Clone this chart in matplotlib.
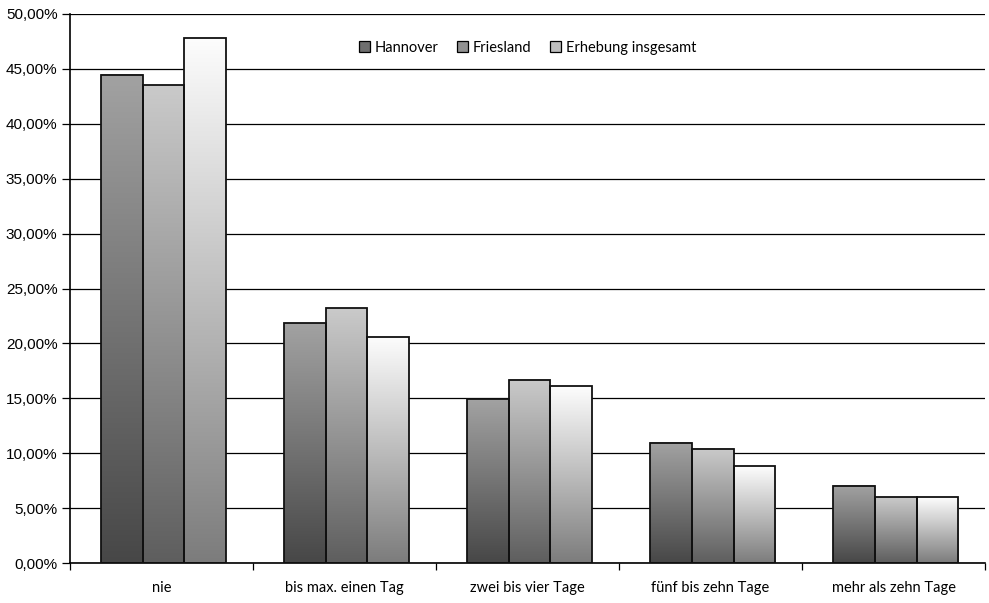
import numpy as np
import matplotlib
matplotlib.use("Agg")
import matplotlib.pyplot as plt
import matplotlib.patches as mpatches
from matplotlib.colors import LinearSegmentedColormap
from matplotlib.ticker import FuncFormatter

categories = ["nie", "bis max. einen Tag", "zwei bis vier Tage",
              "fünf bis zehn Tage", "mehr als zehn Tage"]
series = ["Hannover", "Friesland", "Erhebung insgesamt"]
hannover = [44.45, 21.85, 14.9, 10.95, 7.05]
friesland = [43.5, 23.2, 16.7, 10.4, 6.0]
gesamt = [47.85, 20.6, 16.1, 8.8, 6.0]

# Verlauf je Reihe: unten dunkel, oben hell
shades = [("#474747", "#a2a2a2"), ("#5e5e5e", "#cacaca"), ("#7c7c7c", "#fdfdfd")]

fig = plt.figure(figsize=(9.89, 6.03), dpi=100)
ax = fig.add_axes([0.0708, 0.0663, 0.9252, 0.9105])

x = np.arange(len(categories))
w = 0.227
for i, vals in enumerate([hannover, friesland, gesamt]):
    cmap = LinearSegmentedColormap.from_list("g%d" % i, [shades[i][0], shades[i][1]])
    bars = ax.bar(x + (i - 1) * w + 0.012, vals, w, facecolor="none",
                  edgecolor="#111111", linewidth=1.3, zorder=3)
    for r in bars:
        x0, y0 = r.get_x(), r.get_y()
        grad = np.linspace(0, 1, 256).reshape(-1, 1)
        ax.imshow(grad, cmap=cmap, origin="lower", aspect="auto",
                  extent=(x0, x0 + r.get_width(), y0, y0 + r.get_height()),
                  zorder=2, interpolation="bilinear")

ax.set_xlim(-0.5, len(categories) - 0.5)
ax.set_ylim(0, 50)
ax.set_yticks(np.arange(0, 51, 5))
ax.yaxis.set_major_formatter(FuncFormatter(lambda v, p: ("%.2f%%" % v).replace(".", ",")))
ax.yaxis.grid(True, color="black", linewidth=0.9, zorder=1)
ax.set_axisbelow(True)

ax.set_xticks(np.arange(-0.5, len(categories) + 0.5, 1))
ax.set_xticklabels([])
ax.set_xticks(x, minor=True)
ax.set_xticklabels(categories, minor=True, family="Lato", fontsize=10.5)
ax.tick_params(axis="x", which="minor", length=0, pad=13)
ax.tick_params(axis="x", which="major", length=5, direction="out", width=0.9)
ax.tick_params(axis="y", length=6, width=0.9, labelsize=11, pad=3)
for lab in ax.get_yticklabels():
    lab.set_family("Liberation Sans")

ax.spines["right"].set_visible(False)
ax.spines["top"].set_visible(False)
ax.spines["left"].set_linewidth(1.2)
ax.spines["bottom"].set_linewidth(1.2)

handles = [mpatches.Patch(facecolor=c, edgecolor="black", linewidth=0.9)
           for c in ["#6e6e6e", "#919191", "#bdbdbd"]]
ax.legend(handles, series, loc="upper center", bbox_to_anchor=(0.5, 0.975), ncol=3,
          frameon=False, prop={"family": "Lato", "size": 10.5},
          handlelength=0.75, handleheight=0.75, handletextpad=0.3, columnspacing=1.3)

fig.savefig("out.png", dpi=100)
